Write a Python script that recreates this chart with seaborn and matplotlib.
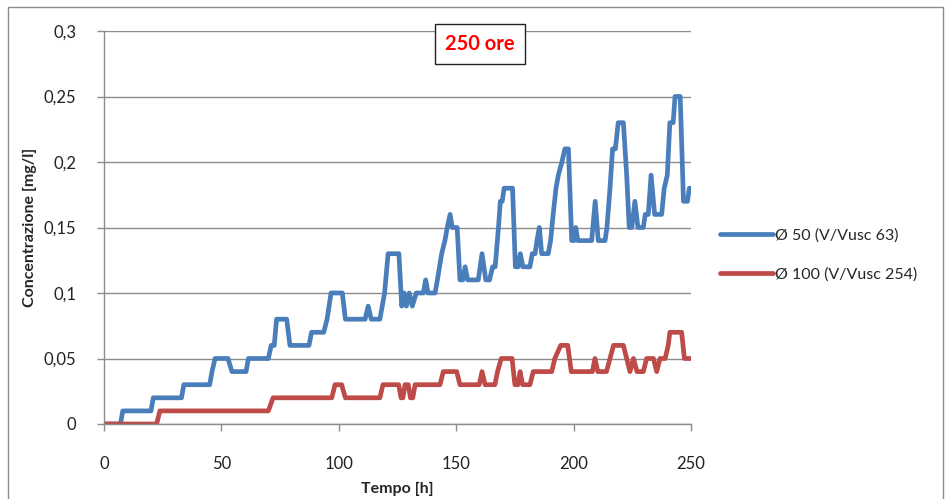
import matplotlib
matplotlib.use("Agg")
import matplotlib.pyplot as plt
import matplotlib.ticker as mticker
from matplotlib.patches import Rectangle
import pandas as pd
import seaborn as sns

# Concentration readings (hour, mg/l) for the two pipe diameters
blue_points = [
    (0, 0), (7, 0), (8, 0.01), (20, 0.01), (21, 0.02), (33, 0.02), (34, 0.03),
    (45, 0.03), (46, 0.04), (47.3, 0.05), (52.8, 0.05), (54.5, 0.04), (60.5, 0.04),
    (61.5, 0.05), (70, 0.05), (71.2, 0.06), (72.5, 0.06), (73.5, 0.08), (77.8, 0.08),
    (79.2, 0.06), (87.3, 0.06), (88.4, 0.07), (93.6, 0.07), (95, 0.08), (96.7, 0.10),
    (101.5, 0.10), (102.8, 0.08), (111.2, 0.08), (112.5, 0.09), (113.8, 0.08),
    (117.5, 0.08), (118.5, 0.09), (119.5, 0.10), (121, 0.13), (125.6, 0.13),
    (126.8, 0.09), (127.8, 0.10), (128.8, 0.09), (130, 0.10), (131.3, 0.09),
    (133, 0.10), (136, 0.10), (137, 0.11), (138, 0.10), (141, 0.10), (142, 0.11),
    (143.8, 0.13), (145.2, 0.14), (146.2, 0.15), (147.4, 0.16), (148.3, 0.15),
    (150.4, 0.15), (151.6, 0.11), (152.8, 0.11), (153.8, 0.12), (154.9, 0.11),
    (159.4, 0.11), (161, 0.13), (162.6, 0.11), (164.2, 0.11), (165.5, 0.12),
    (166.6, 0.12), (168, 0.15), (168.8, 0.17), (169.6, 0.17), (170.4, 0.18),
    (174, 0.18), (175.2, 0.12), (176.4, 0.12), (177.3, 0.13), (178.4, 0.12),
    (181.4, 0.12), (182.4, 0.13), (183.6, 0.13), (184.4, 0.14), (185.4, 0.15),
    (186.4, 0.13), (189.2, 0.13), (190.2, 0.14), (191.3, 0.16), (192.5, 0.18),
    (193.5, 0.19), (195, 0.20), (196.3, 0.21), (197.8, 0.21), (199.2, 0.14),
    (200.2, 0.14), (200.9, 0.15), (201.8, 0.14), (207.7, 0.14), (209.2, 0.17),
    (210.5, 0.14), (213.4, 0.14), (214.2, 0.15), (215.5, 0.18), (216.6, 0.21),
    (217.8, 0.21), (219, 0.23), (221.2, 0.23), (222.6, 0.19), (223.7, 0.15),
    (224.8, 0.15), (226.1, 0.17), (227.4, 0.15), (229.7, 0.15), (230.5, 0.16),
    (231.8, 0.16), (233, 0.19), (234.5, 0.16), (237.5, 0.16), (238.6, 0.18),
    (239.9, 0.19), (241, 0.23), (242.4, 0.23), (243.2, 0.25), (245.4, 0.25),
    (246.8, 0.17), (248.5, 0.17), (249.3, 0.18), (250, 0.18),
]

red_points = [
    (0, 0), (22.4, 0), (23.8, 0.01), (70, 0.01), (72, 0.02), (97, 0.02),
    (98.4, 0.03), (101.2, 0.03), (102.8, 0.02), (117.5, 0.02), (118.8, 0.03),
    (125.5, 0.03), (126.5, 0.02), (127.3, 0.02), (128.2, 0.03), (129.6, 0.03),
    (130.5, 0.02), (131.5, 0.02), (132.5, 0.03), (143.1, 0.03), (144.5, 0.04),
    (150.2, 0.04), (151.6, 0.03), (159.8, 0.03), (161, 0.04), (162.3, 0.03),
    (166.5, 0.03), (167.6, 0.04), (169.2, 0.05), (173.8, 0.05), (175, 0.03),
    (176.3, 0.03), (177.2, 0.04), (178.3, 0.03), (181.4, 0.03), (182.8, 0.04),
    (190.7, 0.04), (192, 0.05), (194.5, 0.06), (197.5, 0.06), (199, 0.04),
    (208, 0.04), (209.1, 0.05), (210.3, 0.04), (214, 0.04), (215.5, 0.05),
    (217, 0.06), (221.2, 0.06), (222.6, 0.05), (224, 0.04), (225.5, 0.05),
    (227, 0.04), (229.7, 0.04), (231.1, 0.05), (234, 0.05), (235.4, 0.04),
    (236.8, 0.05), (239, 0.05), (240.3, 0.06), (241, 0.07), (246, 0.07),
    (247.2, 0.05), (250, 0.05),
]

series_names = ["Ø 50 (V/Vusc 63)", "Ø 100 (V/Vusc 254)"]
series_colors = ["#4A7EBB", "#BE4B48"]
x_ticks = [0, 50, 100, 150, 200, 250]
y_ticks = [0, 0.05, 0.1, 0.15, 0.2, 0.25, 0.3]
title_text = "250 ore"

rows = []
for name, pts in zip(series_names, [blue_points, red_points]):
    for h, v in pts:
        rows.append({"Tempo": h, "Concentrazione": v, "Serie": name})
df = pd.DataFrame(rows)

sns.set_style("white")
plt.rcParams["font.family"] = ["Lato", "DejaVu Sans"]

fig = plt.figure(figsize=(9.5, 4.99), dpi=100)
ax = fig.add_axes([104 / 950, 75 / 499, 587 / 950, 393 / 499])

sns.lineplot(data=df, x="Tempo", y="Concentrazione", hue="Serie",
             hue_order=series_names, palette=series_colors,
             estimator=None, sort=False, linewidth=3.4, ax=ax,
             solid_joinstyle="round", solid_capstyle="round")

ax.set_xlim(0, 250)
ax.set_ylim(0, 0.3)
ax.set_xticks(x_ticks)
ax.set_yticks(y_ticks)
ax.yaxis.set_major_formatter(mticker.FuncFormatter(
    lambda v, p: ("%g" % round(v, 2)).replace(".", ",")))
ax.xaxis.set_major_formatter(mticker.FuncFormatter(lambda v, p: "%d" % v))

ax.grid(axis="y", color="#8c8c8c", linewidth=1.0)
ax.grid(axis="x", visible=False)
ax.set_axisbelow(True)
for side in ["top", "right"]:
    ax.spines[side].set_visible(False)
for side in ["left", "bottom"]:
    ax.spines[side].set_color("#8c8c8c")
    ax.spines[side].set_linewidth(1.0)
ax.tick_params(axis="both", direction="out", length=5, width=1.0,
               color="#8c8c8c", labelsize=12, labelcolor="#222222",
               left=True, bottom=True)
ax.tick_params(axis="x", pad=18)
ax.tick_params(axis="y", pad=15)

ax.set_xlabel("Tempo [h]", fontsize=11.5, fontweight="bold", labelpad=7)
ax.set_ylabel("Concentrazione [mg/l]", fontsize=11.5, fontweight="bold", labelpad=5)

ax.text(0.64, 0.966, title_text, transform=ax.transAxes, ha="center", va="center",
        fontsize=14.5, fontweight="bold", color="#ff0000",
        bbox=dict(boxstyle="square,pad=0.5", facecolor="white",
                  edgecolor="#222222", linewidth=1.0))

ax.legend(loc="center left", bbox_to_anchor=(1.025, 0.43), frameon=False,
          fontsize=11.5, handlelength=3.3, handletextpad=0.15, labelspacing=1.55)

fig.patches.append(Rectangle((8 / 950, -0.02), 935 / 950, 1.02 - 7 / 499,
                             transform=fig.transFigure, fill=False,
                             edgecolor="#8c8c8c", linewidth=1.0))

fig.savefig("out.png", dpi=100)
